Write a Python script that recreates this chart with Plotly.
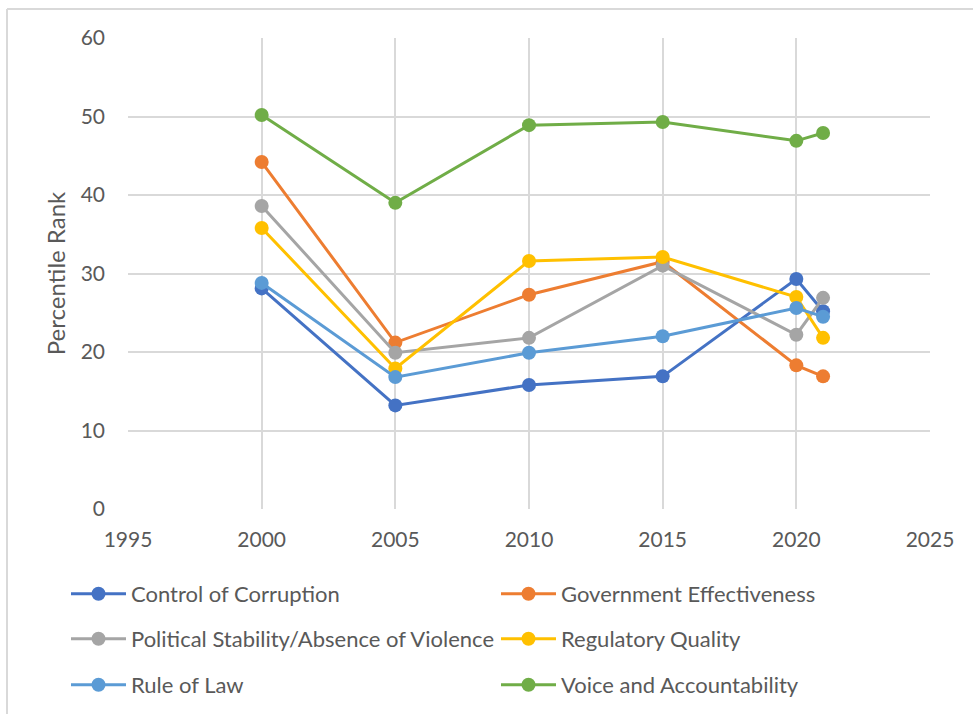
import plotly.graph_objects as go

years = [2000, 2005, 2010, 2015, 2020, 2021]
series_names = [
    "Control of Corruption",
    "Government Effectiveness",
    "Political Stability/Absence of Violence",
    "Regulatory Quality",
    "Rule of Law",
    "Voice and Accountability",
]
control_corruption = [28.1, 13.2, 15.8, 16.9, 29.3, 25.2]
gov_effectiveness = [44.2, 21.2, 27.3, 31.5, 18.3, 16.9]
political_stability = [38.6, 19.9, 21.8, 31.0, 22.2, 26.9]
regulatory_quality = [35.8, 17.9, 31.6, 32.1, 27.0, 21.8]
rule_of_law = [28.8, 16.8, 19.9, 22.0, 25.6, 24.5]
voice_accountability = [50.2, 39.0, 48.9, 49.3, 46.9, 47.9]
colors = ["#4472C4", "#ED7D31", "#A5A5A5", "#FFC000", "#5B9BD5", "#70AD47"]
x_ticks = [1995, 2000, 2005, 2010, 2015, 2020, 2025]
y_ticks = [0, 10, 20, 30, 40, 50, 60]

all_series = [control_corruption, gov_effectiveness, political_stability,
              regulatory_quality, rule_of_law, voice_accountability]

FONT = "Lato, 'Open Sans', sans-serif"
TXT = "#595959"
W, H = 973, 714
ML, MR, MT, MB = 128, 43, 38, 205
PW, PH = W - ML - MR, H - MT - MB


def px_x(px):
    return (px - ML) / PW


def px_y(py):
    return (H - MB - py) / PH


fig = go.Figure()
legend_keys = ["legend", "legend2", "legend3", "legend4", "legend5", "legend6"]
for i, (name, vals) in enumerate(zip(series_names, all_series)):
    fig.add_trace(go.Scatter(
        x=years, y=vals, name=name, mode="lines+markers",
        line=dict(color=colors[i], width=3),
        marker=dict(color=colors[i], size=14),
        legend=legend_keys[i],
    ))

leg_pos = [(66, 594), (496, 594), (66, 639), (496, 639), (66, 685), (496, 685)]
layout_legends = {}
for key, (lx, ly) in zip(legend_keys, leg_pos):
    layout_legends[key] = dict(
        x=px_x(lx), y=px_y(ly), xanchor="left", yanchor="middle",
        xref="paper", yref="paper",
        font=dict(family=FONT, size=22, color=TXT),
        bgcolor="rgba(0,0,0,0)", itemwidth=55,
    )

fig.update_layout(
    width=W, height=H,
    margin=dict(l=ML, r=MR, t=MT, b=MB, autoexpand=False),
    paper_bgcolor="white", plot_bgcolor="white",
    font=dict(family=FONT, size=20, color=TXT),
    showlegend=True,
    **layout_legends,
    xaxis=dict(
        range=[1995, 2025], tickvals=x_ticks, showgrid=True,
        gridcolor="#D9D9D9", gridwidth=2, zeroline=False, showline=False,
        ticks="", tickfont=dict(family=FONT, size=21, color=TXT),
        ticklabelstandoff=16, automargin=False,
    ),
    yaxis=dict(
        range=[0, 60], tickvals=y_ticks, showgrid=True,
        gridcolor="#D9D9D9", gridwidth=2, zeroline=False, showline=False,
        ticks="", tickfont=dict(family=FONT, size=21, color=TXT),
        ticklabelstandoff=22, automargin=False,
        title=dict(text="Percentile Rank", standoff=8,
                   font=dict(family=FONT, size=24, color=TXT)),
    ),
    shapes=[
        dict(type="line", xref="paper", yref="paper",
             x0=px_x(7), x1=px_x(975), y0=px_y(9), y1=px_y(9),
             line=dict(color="#D9D9D9", width=2)),
        dict(type="line", xref="paper", yref="paper",
             x0=px_x(7), x1=px_x(7), y0=px_y(9), y1=px_y(716),
             line=dict(color="#D9D9D9", width=2)),
    ],
)

fig.write_html("out.html")
